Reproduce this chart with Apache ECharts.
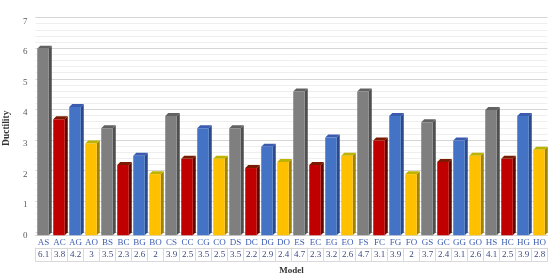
<!DOCTYPE html>
<html><head><meta charset="utf-8">
<script src="https://cdn.jsdelivr.net/npm/echarts@6/dist/echarts.min.js"></script>
<style>html,body{margin:0;padding:0;background:#fff}#c{width:550px;height:276px}</style>
</head><body><div id="c"></div>
<script>
const categories = ['AS','AC','AG','AO','BS','BC','BG','BO','CS','CC','CG','CO','DS','DC','DG','DO','ES','EC','EG','EO','FS','FC','FG','FO','GS','GC','GG','GO','HS','HC','HG','HO'];
const ductility = [6.1,3.8,4.2,3,3.5,2.3,2.6,2,3.9,2.5,3.5,2.5,3.5,2.2,2.9,2.4,4.7,2.3,3.2,2.6,4.7,3.1,3.9,2,3.7,2.4,3.1,2.6,4.1,2.5,3.9,2.8];
const valueLabels = ['6.1','3.8','4.2','3','3.5','2.3','2.6','2','3.9','2.5','3.5','2.5','3.5','2.2','2.9','2.4','4.7','2.3','3.2','2.6','4.7','3.1','3.9','2','3.7','2.4','3.1','2.6','4.1','2.5','3.9','2.8'];
const yTicks = [0,1,2,3,4,5,6,7];

const frontC = ['#7f7f7f','#c00000','#4472c4','#ffc000'];
const sideC  = ['#4f4f4f','#560a00','#2b4a8c','#a08200'];
const topC   = ['#626262','#7a1a00','#3a5bb0','#bdb400'];
const serif = '"Liberation Serif","DejaVu Serif",serif';

const chart = echarts.init(document.getElementById('c'));
const G = {left:35.5, right:2.5};
chart.setOption({
  animation:false,
  backgroundColor:'#fff',
  grid:[
    {left:G.left, right:G.right, top:21.3, bottom:40.7, outerBoundsMode:'none', containLabel:false},
    {left:G.left, right:G.right, top:17.5, bottom:44, outerBoundsMode:'none', containLabel:false}
  ],
  xAxis:[
    {type:'category', gridIndex:0, data:categories,
     axisLine:{show:true, lineStyle:{color:'#d9d9d9'}}, axisTick:{show:false},
     axisLabel:{color:'#3f5fb5', fontFamily:serif, fontSize:9, margin:3, interval:0},
     name:'Model', nameLocation:'middle', nameGap:31,
     nameTextStyle:{fontFamily:serif, fontWeight:'bold', fontSize:9, color:'#333'}},
    {type:'category', gridIndex:0, data:valueLabels, position:'bottom', offset:12.5,
     axisLine:{show:true, lineStyle:{color:'#d9d9d9'}},
     axisTick:{show:true, length:13, lineStyle:{color:'#d9d9d9'}, interval:0},
     axisLabel:{color:'#3c4a80', fontFamily:serif, fontSize:9, margin:2.5, interval:0}},
    {type:'category', gridIndex:0, data:categories, position:'bottom', offset:25.5,
     axisLine:{show:true, lineStyle:{color:'#d9d9d9'}}, axisTick:{show:false}, axisLabel:{show:false}},
    {type:'category', gridIndex:1, data:categories, show:false}
  ],
  yAxis:[
    {type:'value', gridIndex:0, min:0, max:7, interval:1,
     axisLine:{show:false}, axisTick:{show:false}, splitLine:{show:false},
     axisLabel:{color:'#595959', fontFamily:serif, fontSize:9, margin:8,
       formatter:v=>yTicks.includes(v)?String(v):''},
     name:'Ductility', nameLocation:'middle', nameGap:24,
     nameTextStyle:{fontFamily:serif, fontWeight:'bold', fontSize:9.5, color:'#333'}},
    {type:'value', gridIndex:1, min:0, max:7, interval:1,
     axisLine:{show:false}, axisTick:{show:false}, axisLabel:{show:false},
     splitLine:{show:true, lineStyle:{color:'#d6d6d6', width:1.2}},
     minorTick:{show:false, splitNumber:5},
     minorSplitLine:{show:true, lineStyle:{color:'#eeeeee', width:1}}}
  ],
  series:[{
    type:'custom', xAxisIndex:0, yAxisIndex:0,
    data: ductility.map((v,i)=>[i,v]),
    encode:{x:0,y:1},
    renderItem:(params, api)=>{
      const i = api.value(0), v = api.value(1);
      const t = api.coord([i, v]);
      const b = api.coord([i, 0]);
      const bw = api.size([1,0])[0];
      const fw = bw*0.72;
      const x0 = t[0] - fw/2 - 0.5, x1 = x0 + fw;
      const d = 3;
      const k = i % 4;
      return {type:'group', children:[
        {type:'polygon', shape:{points:[[x1,t[1]],[x1+d,t[1]-d],[x1+d,b[1]-d],[x1,b[1]]]}, style:{fill:sideC[k]}},
        {type:'polygon', shape:{points:[[x0,t[1]],[x0+d,t[1]-d],[x1+d,t[1]-d],[x1,t[1]]]}, style:{fill:topC[k]}},
        {type:'rect', shape:{x:x0, y:t[1], width:fw, height:b[1]-t[1]}, style:{fill:frontC[k]}}
      ]};
    }
  }]
});
</script></body></html>
